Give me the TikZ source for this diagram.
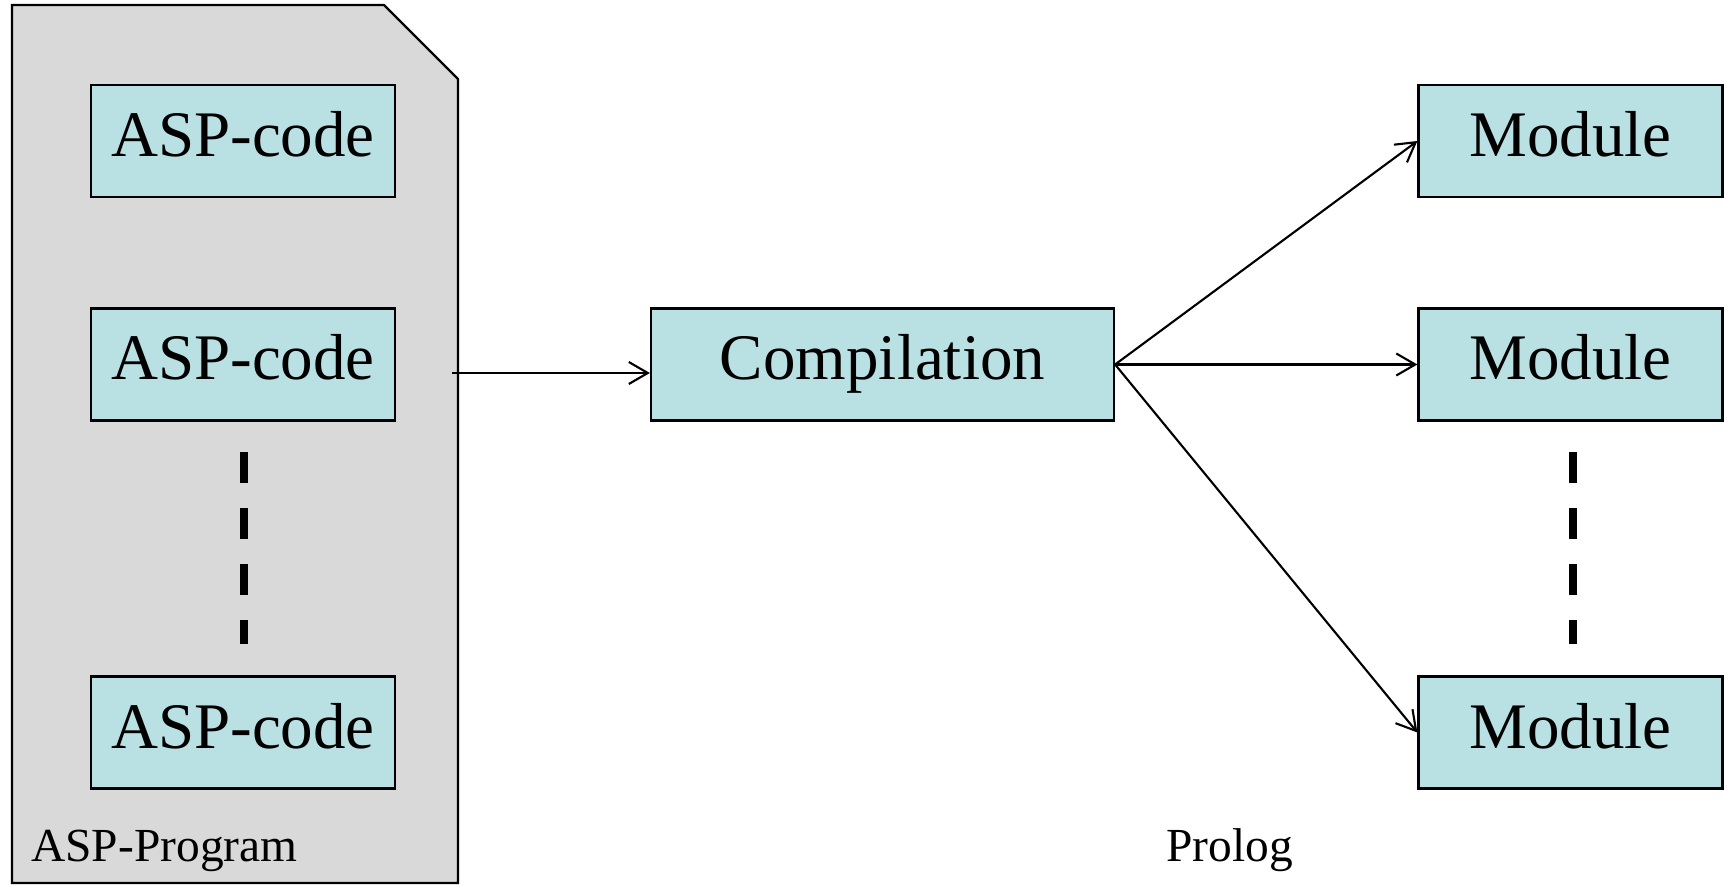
\documentclass[tikz,border=0pt]{standalone}
\usepackage{fontspec}
\setmainfont{Liberation Serif}
\usetikzlibrary{positioning,calc,arrows.meta}

\definecolor{boxfill}{RGB}{185,224,227}
\definecolor{progfill}{RGB}{217,217,217}

\tikzset{
    codebox/.style={draw, line width=1.3pt, fill=boxfill, minimum width=6.08cm, minimum height=2.24cm, inner sep=0pt, text height=0.9cm, text depth=0.28cm, font=\fontsize{37}{40}\selectfont},
    dots/.style={line width=0.16cm, dash pattern=on 0.62cm off 0.5cm},
    flow/.style={-{Straight Barb[length=0.38cm, width=0.44cm]}, line width=1.2pt},
    caption/.style={anchor=base west, inner sep=0pt, font=\fontsize{27}{30}\selectfont}
}

\begin{document}
\begin{tikzpicture}[x=0.02cm, y=-0.02cm]
    \useasboundingbox (0,0) rectangle (1725,885);

    % ASP program (document shape)
    \draw[line width=1.3pt, fill=progfill] (12,5) -- (384,5) -- (458,79) -- (458,883) -- (12,883) -- cycle;
    \node[codebox] (asp1) at (243,141) {ASP-code};
    \node[codebox] (asp2) at (243,364.5) {ASP-code};
    \node[codebox] (asp3) at (243,732.5) {ASP-code};
    \draw[dots] (244,452) -- (244,644);
    \node[caption] (progname) at (31,861) {ASP-Program};

    % compilation
    \node[codebox, minimum width=9.26cm] (comp) at (882.5,364.5) {Compilation};
    \coordinate (progout) at (452,373);
    \draw[flow] (progout) -- (progout -| comp.west);

    % Prolog modules
    \node[codebox] (mod1) at (1570.5,141) {Module};
    \node[codebox] (mod2) at (1570.5,364.5) {Module};
    \node[codebox] (mod3) at (1570.5,732.5) {Module};
    \draw[dots] (1573,452) -- (1573,644);
    \node[caption] (prolog) at (1166,861) {Prolog};

    \draw[flow] (comp.east) -- (mod1.west);
    \draw[flow] (comp.east) -- (mod2.west);
    \draw[flow] (comp.east) -- (mod3.west);
\end{tikzpicture}
\end{document}
